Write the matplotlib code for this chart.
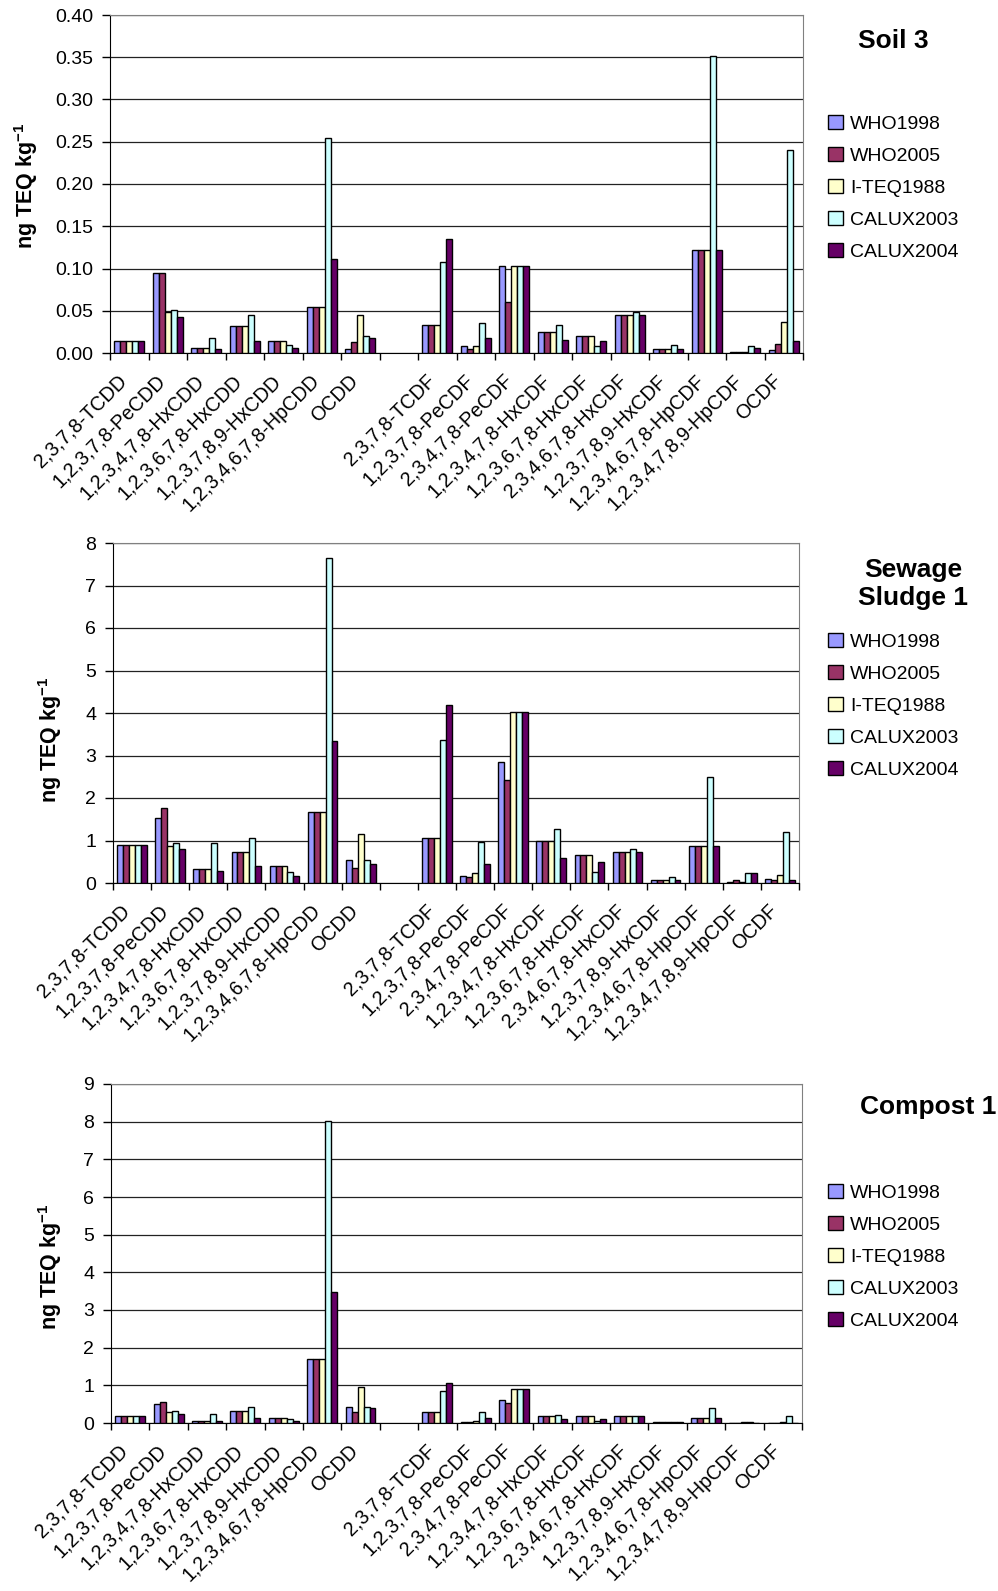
import matplotlib
matplotlib.use("Agg")
import matplotlib.pyplot as plt
import numpy as np
from matplotlib.patches import Rectangle
from matplotlib.transforms import ScaledTranslation

plt.rcParams['font.family'] = ['Liberation Sans', 'DejaVu Sans']
plt.rcParams['mathtext.default'] = 'regular'

# congener names, dioxins then furans (a blank slot sits between them)
pcdd = ['2,3,7,8-TCDD', '1,2,3,7,8-PeCDD', '1,2,3,4,7,8-HxCDD', '1,2,3,6,7,8-HxCDD',
        '1,2,3,7,8,9-HxCDD', '1,2,3,4,6,7,8-HpCDD', 'OCDD']
pcdf = ['2,3,7,8-TCDF', '1,2,3,7,8-PeCDF', '2,3,4,7,8-PeCDF', '1,2,3,4,7,8-HxCDF',
        '1,2,3,6,7,8-HxCDF', '2,3,4,6,7,8-HxCDF', '1,2,3,7,8,9-HxCDF',
        '1,2,3,4,6,7,8-HpCDF', '1,2,3,4,7,8,9-HpCDF', 'OCDF']
series = ['WHO1998', 'WHO2005', 'I-TEQ1988', 'CALUX2003', 'CALUX2004']
colors = ['#9999FF', '#993366', '#FFFFCC', '#CCFFFF', '#660066']

# Soil 3
soil_who98 = [.014, .095, .006, .0315, .014, .0544, .0047,
              .0335, .0079, .1025, .0252, .0205, .045, .0043, .122, .0016, .003]
soil_who05 = [.014, .095, .006, .0315, .014, .0544, .013,
              .0335, .0047, .0607, .0252, .0205, .045, .0043, .122, .0016, .011]
soil_iteq = [.014, .0485, .006, .0315, .014, .0544, .045,
             .0335, .0079, .1025, .0252, .0205, .045, .0043, .122, .0016, .0367]
soil_calux03 = [.014, .051, .018, .045, .0095, .254, .0205,
                .1076, .0355, .1025, .0335, .0079, .0489, .009, .352, .0079, .240]
soil_calux04 = [.014, .043, .005, .0146, .0063, .111, .0177,
                .135, .0177, .1025, .0158, .0142, .045, .0043, .122, .006, .0146]

# Sewage Sludge 1
sludge_who98 = [.90, 1.54, .33, .74, .39, 1.67, .55,
                1.06, .17, 2.85, 1.00, .67, .74, .06, .86, .03, .10]
sludge_who05 = [.90, 1.76, .33, .74, .39, 1.67, .35,
                1.06, .13, 2.43, 1.00, .67, .74, .06, .86, .06, .06]
sludge_iteq = [.90, .86, .33, .74, .39, 1.67, 1.15,
               1.06, .23, 4.02, 1.00, .67, .74, .06, .86, .03, .20]
sludge_calux03 = [.90, .93, .93, 1.06, .26, 7.64, .55,
                  3.36, .96, 4.02, 1.28, .26, .81, .13, 2.49, .23, 1.21]
sludge_calux04 = [.90, .81, .29, .39, .17, 3.33, .45,
                  4.19, .45, 4.02, .59, .49, .74, .07, .86, .23, .07]

# Compost 1
comp_who98 = [.18, .50, .06, .32, .13, 1.71, .42,
              .28, .03, .60, .18, .18, .18, .03, .13, .01, .01]
comp_who05 = [.18, .57, .06, .32, .13, 1.71, .28,
              .28, .03, .53, .18, .18, .18, .03, .13, .01, .01]
comp_iteq = [.18, .28, .06, .32, .13, 1.71, .95,
             .28, .06, .89, .18, .18, .18, .03, .13, .02, .03]
comp_calux03 = [.18, .32, .25, .42, .10, 8.02, .42,
                .85, .28, .89, .21, .06, .18, .03, .40, .02, .18]
comp_calux04 = [.18, .25, .06, .13, .06, 3.47, .40,
                1.06, .13, .89, .10, .10, .18, .03, .13, .01, .01]

W, H = 998, 1591
fig = plt.figure(figsize=(W / 100, H / 100), dpi=100)

labels = pcdd + [''] + pcdf
x = np.arange(len(labels))
bw = 0.156


def with_gap(vals):
    return list(vals[:7]) + [np.nan] + list(vals[7:])


def panel(box, data, ymax, ystep, fmt, title, title_xy, leg_top, ylab_xy):
    l, t, r, b = box
    ax = fig.add_axes([l / W, 1 - b / H, (r - l) / W, (b - t) / H])
    for k, vals in enumerate(data):
        ax.bar(x + (k - 2) * bw, with_gap(vals), bw, color=colors[k],
               edgecolor='black', linewidth=1, zorder=3)
    ax.set_xlim(-0.5, len(labels) - 0.5)
    ax.set_ylim(0, ymax)
    ticks = np.arange(0, ymax + ystep / 2, ystep)
    ax.set_yticks(ticks)
    ax.set_yticklabels([fmt % v for v in ticks], fontsize=14)
    ax.tick_params(axis='y', direction='out', length=6, width=1, pad=6)
    ax.yaxis.grid(True, color='#222222', linewidth=0.9, zorder=0)
    ax.set_axisbelow(True)
    ax.set_xticks(x)
    ax.set_xticklabels(labels, fontsize=14.2, rotation=45, ha='right', va='top',
                       rotation_mode='anchor')
    ax.tick_params(axis='x', which='major', length=0, pad=13)
    ax.set_xticks(np.arange(-0.5, len(labels)), minor=True)
    ax.tick_params(axis='x', which='minor', direction='out', length=5, width=1)
    off = ScaledTranslation(-12 / 100, 0, fig.dpi_scale_trans)
    for lab in ax.get_xticklabels():
        lab.set_transform(lab.get_transform() + off)
    for s in ['top', 'right']:
        ax.spines[s].set_color('#808080')
    for s in ['left', 'bottom']:
        ax.spines[s].set_color('black')
    fig.text(ylab_xy[0] / W, 1 - ylab_xy[1] / H, 'ng TEQ kg$^{-1}$', rotation=90,
             ha='center', va='center', fontsize=15.5, fontweight='bold')
    fig.text(title_xy[0] / W, 1 - title_xy[1] / H, title, ha='center', va='center',
             fontsize=19, fontweight='bold', multialignment='center')
    handles = [Rectangle((0, 0), 1, 1, facecolor=c, edgecolor='black', linewidth=1)
               for c in colors]
    fig.legend(handles, series, loc='upper left', bbox_to_anchor=(828 / W, 1 - leg_top / H),
               frameon=False, fontsize=14, handlelength=0.75, handleheight=0.75,
               handletextpad=0.4, labelspacing=0.72, borderpad=0, borderaxespad=0)
    return ax


panel((110, 15, 803, 353),
      [soil_who98, soil_who05, soil_iteq, soil_calux03, soil_calux04],
      0.40, 0.05, '%.2f', 'Soil 3', (893, 41), 115, (26, 186))
panel((113, 543, 799, 883),
      [sludge_who98, sludge_who05, sludge_iteq, sludge_calux03, sludge_calux04],
      8, 1, '%d', 'Sewage\nSludge 1', (913, 584), 633, (50, 740))
panel((111, 1084, 802, 1423),
      [comp_who98, comp_who05, comp_iteq, comp_calux03, comp_calux04],
      9, 1, '%d', 'Compost 1', (928, 1107), 1184, (50, 1267))

fig.savefig('out.png', dpi=100)
